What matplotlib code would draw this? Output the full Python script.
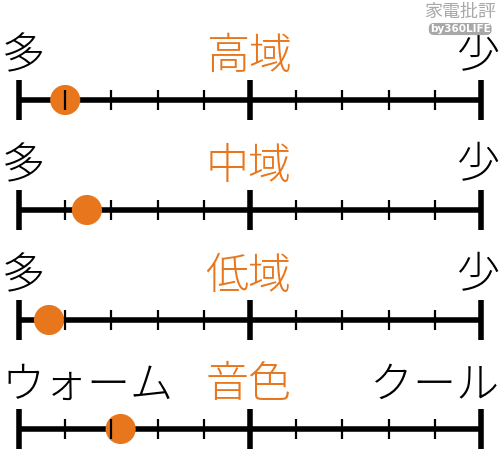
import matplotlib
matplotlib.use("Agg")
import matplotlib.pyplot as plt

plt.rcParams['font.family'] = ['Noto Sans CJK JP', 'DejaVu Sans']

# Data
titles = ["高域", "中域", "低域", "音色"]
left_labels = ["多", "多", "多", "ウォーム"]
right_labels = ["少", "少", "少", "クール"]
values = [1.0, 1.47, 0.65, 2.2]   # position on a 0..10 scale
scale_ticks = list(range(0, 11))

ORANGE = "#E8761C"
W, H = 500, 451
fig = plt.figure(figsize=(W / 100, H / 100), dpi=100)
ax = fig.add_axes([0, 0, 1, 1])
unit = 46.2
x0 = 19
ax.set_xlim(-x0 / unit, (W - x0) / unit)
ax.set_ylim(H, 0)
ax.axis("off")

row_y = [100, 210, 320, 429]
for i, t in enumerate(titles):
    y = row_y[i]
    # main line
    ax.plot([scale_ticks[0], scale_ticks[-1]], [y, y], color="black", lw=4.0,
            solid_capstyle="butt", zorder=2)
    # ticks
    for k in scale_ticks:
        if k in (0, 5, 10):
            ax.plot([k, k], [y - 20, y + 20], color="black", lw=4.0,
                    solid_capstyle="butt", zorder=4)
        else:
            ax.plot([k, k], [y - 10, y + 10], color="black", lw=1.6,
                    solid_capstyle="butt", zorder=4)
    # dot
    ax.scatter([values[i]], [y], s=470, color=ORANGE, edgecolors="none", zorder=3)
    # labels
    ty = y - 44
    ax.text(-0.37, ty, left_labels[i], ha="left", va="center", fontsize=31,
            color="black", fontweight="light")
    ax.text(10.38, ty, right_labels[i], ha="right", va="center", fontsize=31,
            color="black", fontweight="light")
    ax.text(4.97, ty, t, ha="center", va="center", fontsize=31, color=ORANGE,
            fontweight="light")

# watermark
ax.text(9.55, 12, "家電批評", ha="center", va="center", fontsize=13,
        color="#a8a8a8")
ax.text(9.55, 29, "by360LIFE", ha="center", va="center", fontsize=7.5,
        color="white", fontweight="bold", family="DejaVu Sans",
        bbox=dict(boxstyle="round,pad=0.1,rounding_size=0.5", fc="#a8a8a8",
                  ec="none"))

fig.savefig("out.png", dpi=100, facecolor="white")
